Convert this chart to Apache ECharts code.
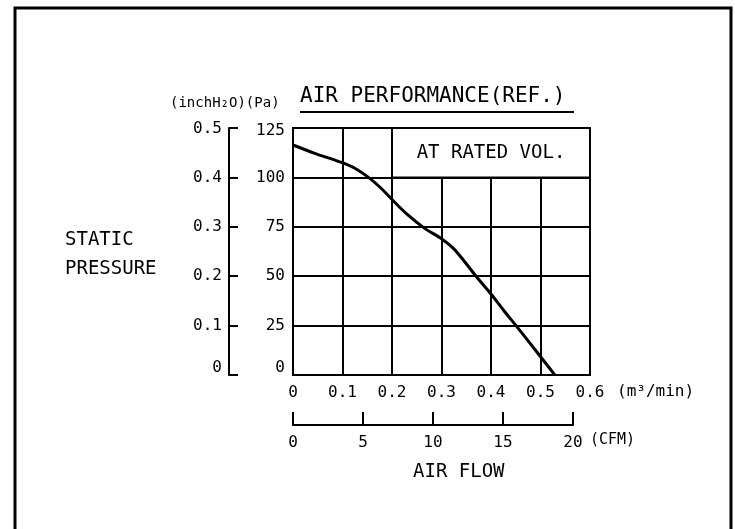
<!DOCTYPE html>
<html>
<head>
<meta charset="utf-8">
<script src="https://cdn.jsdelivr.net/npm/echarts@6/dist/echarts.min.js"></script>
<style>
html,body{margin:0;padding:0;background:#fff;}
#chart{width:735px;height:529px;}
</style>
</head>
<body>
<div id="chart"></div>
<script>
// Air flow (m³/min) and static pressure (Pa)
var flowM3 = [0, 0.044, 0.098, 0.125, 0.155, 0.178, 0.202, 0.232, 0.266, 0.300, 0.324, 0.344, 0.371, 0.400, 0.425, 0.455, 0.499, 0.529];
var pressurePa = [116.4, 112.2, 107.6, 104.6, 99.5, 94.5, 88.3, 81.0, 74.2, 69.0, 64.1, 58.2, 49.6, 41.0, 32.9, 23.6, 9.6, 0];

// Axis ranges / ticks
var paAxis = {min: 0, max: 125, interval: 25};
var inchAxis = {min: 0, max: 0.5, interval: 0.1};
var m3Axis = {min: 0, max: 0.6, interval: 0.1};
var cfmAxis = {min: 0, max: 20, interval: 5};

// Texts
var titleText = 'AIR PERFORMANCE(REF.)';
var unitsText = '(inchH₂O)(Pa)';
var boxText = 'AT RATED VOL.';
var yTitle = ['STATIC', 'PRESSURE'];
var xTitle = 'AIR FLOW';
var m3Unit = '(m³/min)';
var cfmUnit = '(CFM)';
// rated box region (data coords)
var boxRange = {x0: 0.2, x1: 0.6, y0: 100, y1: 125};

var FONT = 'DejaVu Sans Mono';
var chart = echarts.init(document.getElementById('chart'), null, {renderer: 'canvas'});

var lineData = flowM3.map(function (f, i) { return [f, pressurePa[i]]; });

function fmt(v) { return String(Math.round(v * 1000) / 1000); }
function yFmt(maxV) {
  return function (v) {
    var s = fmt(v);
    if (v === 0) return '{lo|' + s + '}';
    if (Math.abs(v - maxV) < 1e-9) return '{hi|' + s + '}';
    return s;
  };
}
var yRich = {
  lo: {fontFamily: FONT, fontSize: 16, color: '#000', padding: [0, 0, 15, 0]},
  hi: {fontFamily: FONT, fontSize: 16, color: '#000', padding: [6, 0, 0, 0]}
};

var option = {
  animation: false,
  backgroundColor: '#fff',
  grid: [
    {left: 293, right: 145, top: 128, bottom: 154, show: true, borderColor: '#000', borderWidth: 2, backgroundColor: 'transparent'},
    {left: 293, width: 280, top: 424, height: 1}
  ],
  xAxis: [
    {
      type: 'value', gridIndex: 0, min: m3Axis.min, max: m3Axis.max, interval: m3Axis.interval,
      name: m3Unit, nameLocation: 'end', nameGap: 27,
      nameTextStyle: {color: '#000', fontFamily: FONT, fontSize: 16, verticalAlign: 'top', align: 'left', padding: [9, 0, 0, 0]},
      axisLine: {show: true, lineStyle: {color: '#000', width: 2}},
      axisTick: {show: false},
      axisLabel: {color: '#000', fontFamily: FONT, fontSize: 16, margin: 10, formatter: fmt},
      splitLine: {show: true, lineStyle: {color: '#000', width: 2}}
    },
    {
      type: 'value', gridIndex: 1, min: cfmAxis.min, max: cfmAxis.max, interval: cfmAxis.interval,
      name: cfmUnit, nameLocation: 'end', nameGap: 17,
      nameTextStyle: {color: '#000', fontFamily: FONT, fontSize: 15, verticalAlign: 'top', align: 'left', padding: [8, 0, 0, 0]},
      axisLine: {show: true, lineStyle: {color: '#000', width: 2}},
      axisTick: {show: true, inside: true, length: 13, lineStyle: {color: '#000', width: 2}},
      axisLabel: {color: '#000', fontFamily: FONT, fontSize: 16, margin: 10},
      splitLine: {show: false}
    }
  ],
  yAxis: [
    {
      type: 'value', gridIndex: 0, min: paAxis.min, max: paAxis.max, interval: paAxis.interval,
      axisLine: {show: true, lineStyle: {color: '#000', width: 2}},
      axisTick: {show: false},
      axisLabel: {color: '#000', fontFamily: FONT, fontSize: 16, margin: 8, formatter: yFmt(paAxis.max), rich: yRich},
      splitLine: {show: true, lineStyle: {color: '#000', width: 2}}
    },
    {
      type: 'value', gridIndex: 0, position: 'left', offset: 64,
      min: inchAxis.min, max: inchAxis.max, interval: inchAxis.interval,
      axisLine: {show: true, lineStyle: {color: '#000', width: 2}},
      axisTick: {show: true, inside: true, length: 9, lineStyle: {color: '#000', width: 2}},
      axisLabel: {color: '#000', fontFamily: FONT, fontSize: 16, margin: 7, formatter: yFmt(inchAxis.max), rich: {lo: yRich.lo, hi: {fontFamily: FONT, fontSize: 16, color: '#000', padding: [2, 0, 0, 0]}}},
      splitLine: {show: false}
    },
    {type: 'value', gridIndex: 1, show: false, min: 0, max: 1}
  ],
  series: [
    {
      type: 'line', xAxisIndex: 0, yAxisIndex: 0,
      data: lineData, smooth: 0.3, showSymbol: false, symbol: 'none',
      lineStyle: {color: '#000', width: 3},
      z: 5,
      markArea: {
        silent: true,
        itemStyle: {color: '#fff', borderColor: '#000', borderWidth: 2, opacity: 1},
        label: {show: true, position: 'inside', formatter: boxText, color: '#000', fontFamily: FONT, fontSize: 19},
        data: [[{xAxis: boxRange.x0, yAxis: boxRange.y0}, {xAxis: boxRange.x1, yAxis: boxRange.y1}]]
      }
    }
  ],
  graphic: [
    {type: 'rect', shape: {x: 15, y: 8, width: 716, height: 560}, style: {fill: 'none', stroke: '#000', lineWidth: 3}, silent: true},
    {type: 'text', left: 300, top: 86, style: {text: titleText, fill: '#000', font: '21px "DejaVu Sans Mono"'}},
    {type: 'line', shape: {x1: 300, y1: 112, x2: 574, y2: 112}, style: {stroke: '#000', lineWidth: 2}},
    {type: 'text', left: 170, top: 96, style: {text: unitsText, fill: '#000', font: '14px "DejaVu Sans Mono"'}},
    {type: 'text', left: 65, top: 231, style: {text: yTitle[0], fill: '#000', font: '19px "DejaVu Sans Mono"'}},
    {type: 'text', left: 65, top: 260, style: {text: yTitle[1], fill: '#000', font: '19px "DejaVu Sans Mono"'}},
    {type: 'text', left: 413, top: 463, style: {text: xTitle, fill: '#000', font: '19px "DejaVu Sans Mono"'}}
  ]
};
chart.setOption(option);
</script>
</body>
</html>
